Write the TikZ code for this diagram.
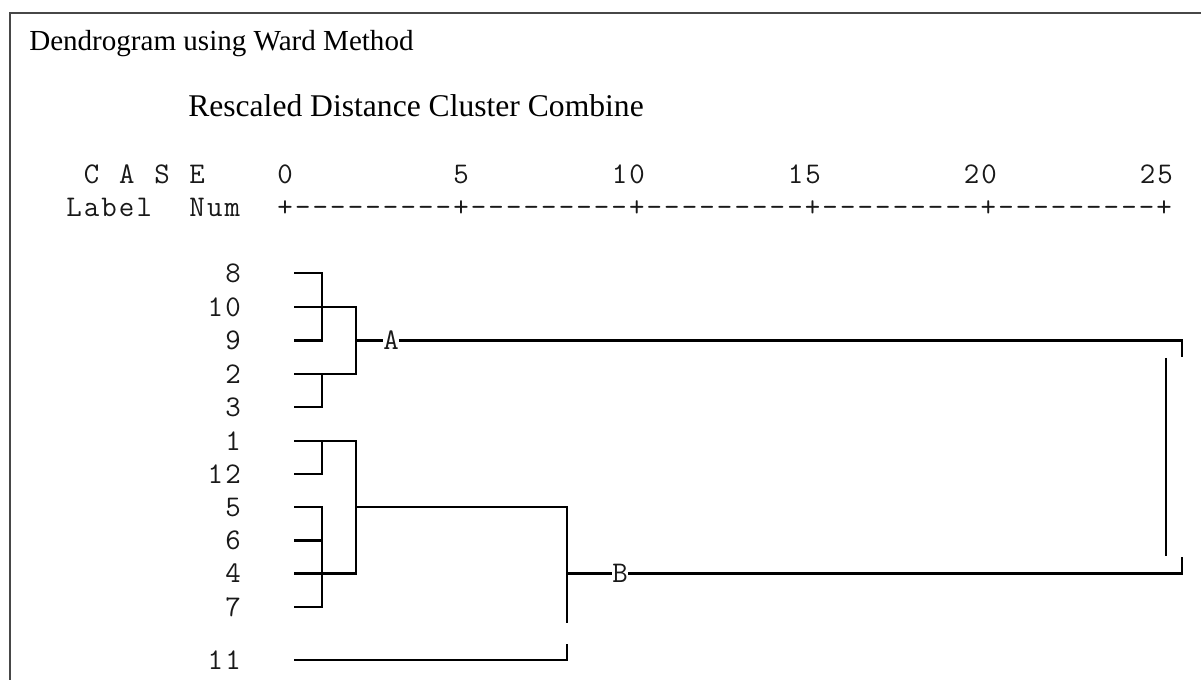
\documentclass[tikz,border=0pt]{standalone}
\usepackage{fontspec}
\setmainfont{Liberation Serif}
\newfontfamily\monof[LetterSpace=7.1]{Latin Modern Mono}
\begin{document}
\begin{tikzpicture}[x=0.75pt,y=-0.75pt,
  frame/.style={draw=black!72, line width=1.2pt},
  tree/.style={draw=black, line width=1.6pt},
  mono/.style={font=\monof\fontsize{22.5}{26}\selectfont, inner sep=0pt, text=black!90},
  serif/.style={inner sep=0pt, anchor=base west}]
\useasboundingbox (0,0) rectangle (1201,680);
\draw[frame] (10,680) -- (10,13) -- (1201,13);
% titles
\node[serif, font=\fontsize{21.8}{26}\selectfont] (title) at (29,50.5) {Dendrogram using Ward Method};
\node[serif, font=\fontsize{23.7}{28}\selectfont] (sub) at (188,117) {Rescaled Distance Cluster Combine};
% header row 1
\node[mono, anchor=base west] (hC) at ({66+1*17.6},184) {C};
\node[mono, anchor=base west] (hA) at ({66+3*17.6},184) {A};
\node[mono, anchor=base west] (hS) at ({66+5*17.6},184) {S};
\node[mono, anchor=base west] (hE) at ({66+7*17.6},184) {E};
\node[mono, anchor=base west] (t0) at ({66+12*17.6},184) {0};
\node[mono, anchor=base west] (t5) at ({66+22*17.6},184) {5};
\node[mono, anchor=base west] (t10) at ({66+31*17.6},184) {10};
\node[mono, anchor=base west] (t15) at ({66+41*17.6},184) {15};
\node[mono, anchor=base west] (t20) at ({66+51*17.6},184) {20};
\node[mono, anchor=base west] (t25) at ({66+61*17.6},184) {25};
% header row 2
\node[mono, anchor=base west] (lab) at ({66+0*17.6},217) {Label};
\node[mono, anchor=base west] (num) at ({66+7*17.6},217) {Num};
\node[mono, anchor=base west] (axis) at ({66+12*17.6},217) {+---------+---------+---------+---------+---------+};
% leaves
\foreach \n/\y in {8/273.3,10/307,9/340.5,2/374,3/407.3,1/441,12/474,5/507.3,6/540.5,4/573.5,7/607,11/660}{
  \node[mono, anchor=east] (c\n) at (241,\y) {\n};
  \coordinate (l\n) at (294,\y);
}
\coordinate (xa) at (322,0);
\coordinate (xb) at (356,0);
\coordinate (xc) at (567,0);
\coordinate (xr) at (1182,0);
\node[mono] (A) at (391,340.5) {A};
\node[mono] (B) at (620,573.5) {B};
% cluster A
\draw[tree] (l8) -- (l8 -| xa) -- (l9 -| xa) -- (l9);
\draw[tree] (l10) -- (l10 -| xb) -- (l2 -| xb) -- (l2);
\draw[tree] (l3) -- (l3 -| xa) -- (l2 -| xa);
\draw[tree] (l9 -| xb) -- (A.west);
% cluster B
\draw[tree] (l1) -- (l1 -| xb) -- (l4 -| xb) -- (l4);
\draw[tree] (l12) -- (l12 -| xa) -- (l1 -| xa);
\draw[tree] (l5) -- (l5 -| xa) -- (l7 -| xa) -- (l7);
\draw[tree] (l6) -- (l6 -| xa);
\coordinate (cgap1) at (567,623);
\coordinate (cgap2) at (567,644);
\draw[tree] (l5 -| xb) -- (l5 -| xc) -- (cgap1);
\draw[tree] (l11) -- (l11 -| xc) -- (cgap2);
\draw[tree] (l4 -| xc) -- (B.west);
% top-level join
\coordinate (ra) at (1182,357);
\coordinate (rq1) at (1166,358);
\coordinate (rq2) at (1166,556);
\coordinate (rb) at (1182,557);
\draw[tree] (A.east) -- (A.east -| xr) -- (ra);
\draw[tree] (rq1) -- (rq2);
\draw[tree] (B.east) -- (B.east -| xr) -- (rb);
\end{tikzpicture}
\end{document}
